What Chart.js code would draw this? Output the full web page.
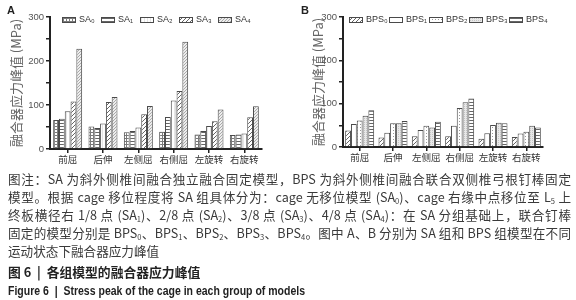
<!DOCTYPE html>
<html><head><meta charset="utf-8">
<script src="https://cdn.jsdelivr.net/npm/chart.js@4.4.1/dist/chart.umd.min.js"></script>
<style>
html,body{margin:0;padding:0;background:#fff;width:576px;height:300px;overflow:hidden;}
#wrap{position:relative;width:576px;height:300px;}
#ca{position:absolute;left:0;top:0;}
#cb{position:absolute;left:290px;top:0;}
.pl{position:absolute;font:bold 11px "Liberation Sans",Arial,sans-serif;color:#222;}
#cap{position:absolute;left:8px;top:170px;width:563px;font-family:"Noto Sans CJK SC",sans-serif;font-size:12.6px;line-height:18px;color:#3a3a3a;}
.j{text-align:justify;text-align-last:justify;white-space:normal;}
sub{font-size:0.6em;vertical-align:-0.2em;line-height:0;}
.t1{font-weight:600;color:#222;margin-top:3px;font-size:12.8px;}
.t2{display:inline-block;white-space:nowrap;font-family:"Liberation Sans",sans-serif;font-weight:bold;color:#222;font-size:12.5px;transform:scaleX(0.84);transform-origin:0 50%;}
</style></head>
<body><div id="wrap">
<canvas id="ca" width="290" height="170"></canvas>
<canvas id="cb" width="286" height="170"></canvas>
<div class="pl" style="left:7px;top:4px;">A</div>
<div class="pl" style="left:301px;top:4px;">B</div>
<div id="cap">
<div class="j">图注：SA 为斜外侧椎间融合独立融合固定模型，BPS 为斜外侧椎间融合联合双侧椎弓根钉棒固定</div>
<div class="j">模型。根据 cage 移位程度将 SA 组具体分为：cage 无移位模型 (SA<sub>0</sub>)、cage 右缘中点移位至 L<sub>5</sub> 上</div>
<div class="j">终板横径右 1/8 点 (SA<sub>1</sub>)、2/8 点 (SA<sub>2</sub>)、3/8 点 (SA<sub>3</sub>)、4/8 点 (SA<sub>4</sub>)：在 SA 分组基础上，联合钉棒</div>
<div class="j">固定的模型分别是 BPS<sub>0</sub>、BPS<sub>1</sub>、BPS<sub>2</sub>、BPS<sub>3</sub>、BPS<sub>4</sub>。图中 A、B 分别为 SA 组和 BPS 组模型在不同</div>
<div>运动状态下融合器应力峰值</div>
<div class="t1">图 6 &nbsp;|&nbsp; 各组模型的融合器应力峰值</div>
<div><span class="t2">Figure 6 &nbsp;|&nbsp; Stress peak of the cage in each group of models</span></div>
</div>
</div>
<script>
const categories = ['前屈','后伸','左侧屈','右侧屈','左旋转','右旋转'];
const saLabels = ['SA₀','SA₁','SA₂','SA₃','SA₄'];
const bpsLabels = ['BPS₀','BPS₁','BPS₂','BPS₃','BPS₄'];
const sa0 = [66,51,38,39,33,32];
const sa1 = [69,48,41,73,41,33];
const sa2 = [86,58,49,110,52,35];
const sa3 = [108,107,79,132,63,72];
const sa4 = [228,118,98,244,90,97];
const bps0 = [38,22,25,25,19,23];
const bps1 = [53,33,39,49,32,31];
const bps2 = [61,55,49,90,51,35];
const bps3 = [72,55,45,103,56,49];
const bps4 = [85,60,58,112,55,45];
const yTicks = [0,100,200,300];
const yTitle = '融合器应力峰值 (MPa)';

function makePattern(ctx, size, bg, draw){
  const c = document.createElement('canvas');
  c.width = c.height = size;
  const g = c.getContext('2d');
  g.fillStyle = bg; g.fillRect(0,0,size,size);
  draw(g);
  return ctx.createPattern(c,'repeat');
}
function patterns(ctx){
  return {
    grid: makePattern(ctx,3,'#fff',g=>{g.fillStyle='#7a7a7a';g.fillRect(0,0,3,1);g.fillRect(0,0,1,3);}),
    hline: makePattern(ctx,3,'#fff',g=>{g.fillStyle='#666';g.fillRect(0,0,3,1);}),
    white: makePattern(ctx,3,'#fff',g=>{g.fillStyle='#e6e6e6';g.fillRect(0,0,1,3);}),
    diagDark: makePattern(ctx,4,'#fff',g=>{g.fillStyle='#666';for(let i=0;i<4;i++){g.fillRect(i,3-i,1,1);} }),
    diagLight: makePattern(ctx,3,'#eee',g=>{g.fillStyle='#aaa';for(let i=0;i<3;i++){g.fillRect(i,2-i,1,1);} }),
    plain: '#ffffff',
    dots: makePattern(ctx,3,'#fff',g=>{g.fillStyle='#999';g.fillRect(1,1,1,1);}),
    dotsGray: makePattern(ctx,2,'#e8e8e8',g=>{g.fillStyle='#c4c4c4';g.fillRect(0,0,1,1);})
  };
}

const inlineLegend = {
  id:'inlineLegend',
  afterDatasetsDraw(chart, args, o){
    const {ctx, chartArea} = chart;
    ctx.save();
    ctx.font = '9px "Liberation Sans"';
    ctx.textBaseline = 'middle';
    let x = chartArea.left + o.offset;
    const y = chartArea.top + o.dy;
    chart.data.datasets.forEach(ds=>{
      ctx.fillStyle = ds.backgroundColor;
      ctx.fillRect(x, y-3, o.bw, 6);
      ctx.strokeStyle = ds.borderColor; ctx.lineWidth = 1;
      ctx.strokeRect(x+0.5, y-2.5, o.bw-1, 5);
      ctx.fillStyle = '#333';
      ctx.fillText(ds.label, x+o.bw+3, y);
      x += o.step;
    });
    ctx.restore();
  }
};

function build(id, labels, series, fills, cfg){
  const el = document.getElementById(id);
  const ctx = el.getContext('2d');
  const p = patterns(ctx);
  const datasets = series.map((d,i)=>({
    label: labels[i], data: d, backgroundColor: p[fills[i]],
    borderColor:'#4a4a4a', borderWidth:1,
    categoryPercentage: cfg.cat, barPercentage: 1.0
  }));
  return new Chart(ctx,{
    type:'bar',
    data:{labels:categories, datasets},
    plugins:[inlineLegend],
    options:{
      responsive:false, animation:false, devicePixelRatio:1,
      layout:{padding:{left:cfg.left,right:cfg.right,top:cfg.top,bottom:cfg.bottom}},
      plugins:{
        tooltip:{enabled:false},
        legend:{display:false},
        inlineLegend:{offset:cfg.legOff, step:cfg.legStep, dy:3, bw:14}
      },
      scales:{
        x:{
          grid:{offset:false, drawOnChartArea:false, drawTicks:true, tickLength:4, color:'#222', lineWidth:1.5},
          border:{display:true, color:'#222', width:2},
          ticks:{color:'#333', font:{size:9.5, family:'Noto Sans CJK SC'}, padding:1, maxRotation:0, autoSkip:false},
          afterFit:s=>{s.height=16;}
        },
        y:{
          min:0, max:300,
          grid:{drawOnChartArea:false, drawTicks:true, tickLength:4, color:'#222', lineWidth:1.5},
          border:{display:true, color:'#222', width:2},
          ticks:{stepSize:50, autoSkip:false, color:'#555', padding:2,
            font:{size:9.5, family:'Liberation Sans'},
            callback:v=>yTicks.includes(v)?String(v):''},
          title:{display:true, text:yTitle, color:'#666', font:{size:13, family:'Noto Sans CJK SC'}, padding:{top:0,bottom:0}},
          afterFit:s=>{s.width=cfg.yw;}
        }
      }
    }
  });
}

build('ca', saLabels, [sa0,sa1,sa2,sa3,sa4], ['grid','hline','white','diagDark','diagLight'],
  {cat:0.82, left:8, right:28, top:17, bottom:5, yw:42, legOff:12, legStep:39});
build('cb', bpsLabels, [bps0,bps1,bps2,bps3,bps4], ['diagDark','plain','dots','dotsGray','hline'],
  {cat:0.87, left:20, right:33, top:17, bottom:7, yw:33, legOff:6, legStep:40});
</script>
</body></html>
